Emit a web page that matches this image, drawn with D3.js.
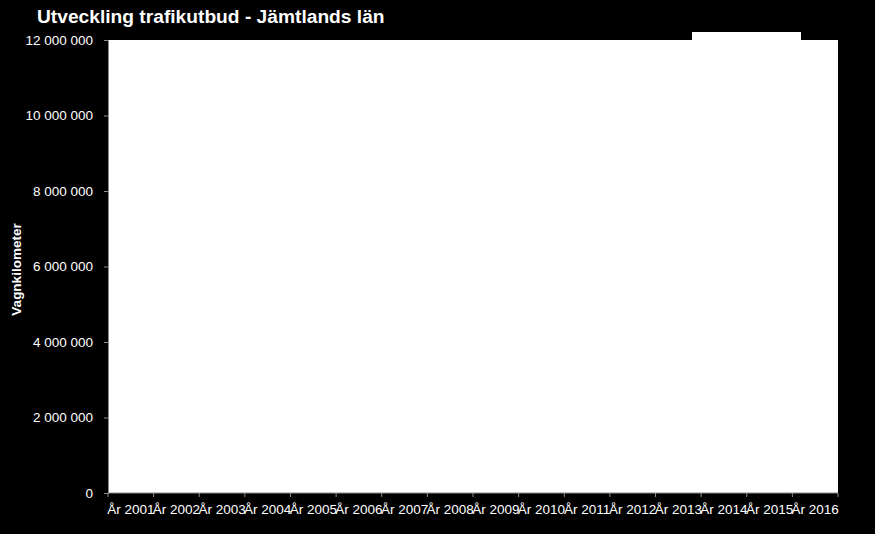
<!DOCTYPE html>
<html>
<head>
<meta charset="utf-8">
<script src="https://cdn.jsdelivr.net/npm/d3@7"></script>
<style>
  html, body { margin: 0; padding: 0; background: #000; }
  svg { display: block; font-family: "Liberation Sans", Arial, sans-serif; }
</style>
</head>
<body>
<svg id="chart" width="875" height="534"></svg>
<script>
const categories = ["År 2001","År 2002","År 2003","År 2004","År 2005","År 2006","År 2007","År 2008","År 2009","År 2010","År 2011","År 2012","År 2013","År 2014","År 2015","År 2016"];
const values = [9100000, 9300000, 9500000, 9700000, 9900000, 10100000, 10300000, 10500000, 10700000, 10900000, 11200000, 11500000, 11800000, 12200000, 12200000, 11900000];
const yTicks = [0, 2000000, 4000000, 6000000, 8000000, 10000000, 12000000];
const title = "Utveckling trafikutbud - Jämtlands län";
const yTitle = "Vagnkilometer";

const svg = d3.select("#chart");
const W = 875, H = 534;
const m = { left: 108, right: 37, top: 40, bottom: 41 };
const pw = W - m.left - m.right, ph = H - m.top - m.bottom;

svg.append("rect").attr("width", W).attr("height", H).attr("fill", "#000");

const x = d3.scaleBand().domain(categories).range([0, pw]).padding(0);
const y = d3.scaleLinear().domain([0, 12000000]).range([ph, 0]);

const g = svg.append("g").attr("transform", `translate(${m.left},${m.top})`);

// plot area
g.append("rect").attr("width", pw).attr("height", ph).attr("fill", "#fff");

// clip bars horizontally to plot area only
svg.append("defs").append("clipPath").attr("id", "clipx")
  .append("rect").attr("x", 0).attr("y", -m.top).attr("width", pw).attr("height", ph + m.top);

const bw = x.bandwidth() * 1.38;
g.append("g").attr("clip-path", "url(#clipx)").attr("shape-rendering", "crispEdges")
  .selectAll("rect").data(values).join("rect")
  .attr("x", (d, i) => x(categories[i]) + x.bandwidth() / 2 - bw / 2)
  .attr("width", bw)
  .attr("y", d => y(d))
  .attr("height", d => y(0) - y(d))
  .attr("fill", "#fff");

const fmt = v => d3.format(",")(v).replace(/,/g, " ");

// y axis
const yAxis = g.append("g").call(d3.axisLeft(y).tickValues(yTicks).tickFormat(fmt).tickSize(4).tickPadding(11));
yAxis.select(".domain").attr("stroke", "#8c8c8c");
yAxis.selectAll(".tick line").attr("stroke", "#8c8c8c");
yAxis.selectAll("text").attr("fill", "#fff").attr("font-size", 13.5).attr("font-family", "Liberation Sans, Arial, sans-serif");

// x axis with ticks at category boundaries
const xg = g.append("g").attr("transform", `translate(0,${ph})`);
xg.append("line").attr("x1", 0).attr("x2", pw).attr("stroke", "#8c8c8c");
const bounds = categories.map(c => x(c)).concat([pw]);
xg.selectAll("line.b").data(bounds).join("line").attr("class", "b")
  .attr("x1", d => d).attr("x2", d => d).attr("y1", 0).attr("y2", 4).attr("stroke", "#8c8c8c");
xg.selectAll("text").data(categories).join("text")
  .attr("x", d => x(d) + x.bandwidth() / 2)
  .attr("y", 21)
  .attr("text-anchor", "middle")
  .attr("fill", "#fff").attr("font-size", 13.5)
  .text(d => d);

// title
svg.append("text").attr("x", 37).attr("y", 23).attr("fill", "#fff")
  .attr("font-size", 19.2).attr("font-weight", "bold").text(title);

// y title
svg.append("text").attr("transform", `translate(21,${m.top + ph / 2 + 3}) rotate(-90)`)
  .attr("text-anchor", "middle").attr("fill", "#fff")
  .attr("font-size", 13.5).attr("font-weight", "bold").text(yTitle);
</script>
</body>
</html>
